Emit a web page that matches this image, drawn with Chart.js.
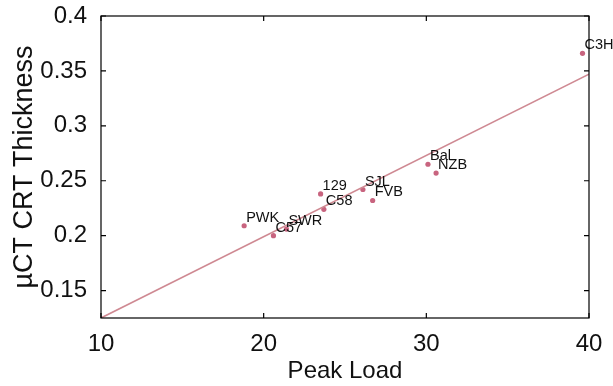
<!DOCTYPE html>
<html>
<head>
<meta charset="utf-8">
<script src="https://cdn.jsdelivr.net/npm/chart.js@4/dist/chart.umd.min.js"></script>
<style>
  html, body { margin: 0; padding: 0; background: #fff; }
  #wrap { width: 613px; height: 386px; }
</style>
</head>
<body>
<div id="wrap"><canvas id="strainChart"></canvas></div>
<script>
// mouse strains: peak load vs cortical thickness
const strains = ["PWK", "C57", "SWR", "129", "C58", "SJL", "FVB", "Bal", "NZB", "C3H"];
const peakLoad = [18.8, 20.6, 21.4, 23.5, 23.7, 26.1, 26.7, 30.1, 30.6, 39.6];
const thickness = [0.209, 0.200, 0.206, 0.238, 0.224, 0.242, 0.232, 0.265, 0.257, 0.366];

// regression line end points
const fitX = [10, 40];
const fitY = [0.125, 0.347];

const xTicks = [10, 20, 30, 40];
const yTicks = [0.15, 0.2, 0.25, 0.3, 0.35, 0.4];

const FONT = "Arial, 'Liberation Sans', sans-serif";

// box around the plot with inward ticks on all four sides
const boxPlugin = {
    id: "box",
    afterDraw(chart) {
        const { ctx, chartArea: a, scales } = chart;
        ctx.save();
        ctx.strokeStyle = "#000";
        ctx.lineWidth = 1.2;
        ctx.strokeRect(a.left, a.top, a.right - a.left, a.bottom - a.top);
        ctx.beginPath();
        xTicks.forEach(v => {
            const px = scales.x.getPixelForValue(v);
            ctx.moveTo(px, a.bottom); ctx.lineTo(px, a.bottom - 5);
            ctx.moveTo(px, a.top); ctx.lineTo(px, a.top + 5);
        });
        yTicks.forEach(v => {
            const py = scales.y.getPixelForValue(v);
            ctx.moveTo(a.left, py); ctx.lineTo(a.left + 5, py);
            ctx.moveTo(a.right, py); ctx.lineTo(a.right - 5, py);
        });
        ctx.stroke();
        ctx.restore();
    }
};

// strain names next to each point
const namePlugin = {
    id: "names",
    afterDatasetsDraw(chart) {
        const { ctx } = chart;
        const meta = chart.getDatasetMeta(1);
        ctx.save();
        ctx.font = "14.5px " + FONT;
        ctx.fillStyle = "#111";
        ctx.textAlign = "left";
        ctx.textBaseline = "middle";
        meta.data.forEach((pt, i) => {
            ctx.fillText(strains[i], pt.x + 2, pt.y - 8);
        });
        ctx.restore();
    }
};

new Chart(document.getElementById("strainChart"), {
    type: "scatter",
    data: {
        datasets: [
            {
                type: "line",
                data: fitX.map((x, i) => ({ x: x, y: fitY[i] })),
                borderColor: "#cf8a93",
                borderWidth: 1.6,
                pointRadius: 0,
                fill: false
            },
            {
                data: peakLoad.map((x, i) => ({ x: x, y: thickness[i] })),
                backgroundColor: "#c8647f",
                borderWidth: 0,
                pointRadius: 2.6
            }
        ]
    },
    options: {
        responsive: true,
        maintainAspectRatio: false,
        animation: false,
        events: [],
        layout: { padding: { top: 16, right: 24, left: 0, bottom: 0 } },
        plugins: { legend: { display: false }, tooltip: { enabled: false } },
        scales: {
            x: {
                type: "linear",
                min: 10,
                max: 40,
                afterBuildTicks(scale) { scale.ticks = xTicks.map(v => ({ value: v })); },
                afterFit(scale) {
                    scale.height = 68;
                    scale.paddingLeft = 0;
                    scale.paddingRight = 0;
                },
                grid: { display: false },
                border: { display: false },
                ticks: { color: "#111", padding: 4, font: { family: FONT, size: 24 } },
                title: {
                    display: true,
                    text: "Peak Load",
                    color: "#111",
                    padding: { top: 0, bottom: 0 },
                    font: { family: FONT, size: 24 }
                }
            },
            y: {
                type: "linear",
                min: 0.125,
                max: 0.4,
                afterBuildTicks(scale) { scale.ticks = yTicks.map(v => ({ value: v })); },
                afterFit(scale) {
                    scale.width = 101;
                    scale.paddingTop = 0;
                    scale.paddingBottom = 0;
                },
                grid: { display: false },
                border: { display: false },
                ticks: {
                    color: "#111",
                    padding: 6,
                    font: { family: FONT, size: 24 },
                    callback: v => String(Math.round(v * 100) / 100)
                },
                title: {
                    display: true,
                    text: "µCT CRT Thickness",
                    color: "#111",
                    padding: { top: 8, bottom: 0 },
                    font: { family: FONT, size: 27 }
                }
            }
        }
    },
    plugins: [boxPlugin, namePlugin]
});
</script>
</body>
</html>
